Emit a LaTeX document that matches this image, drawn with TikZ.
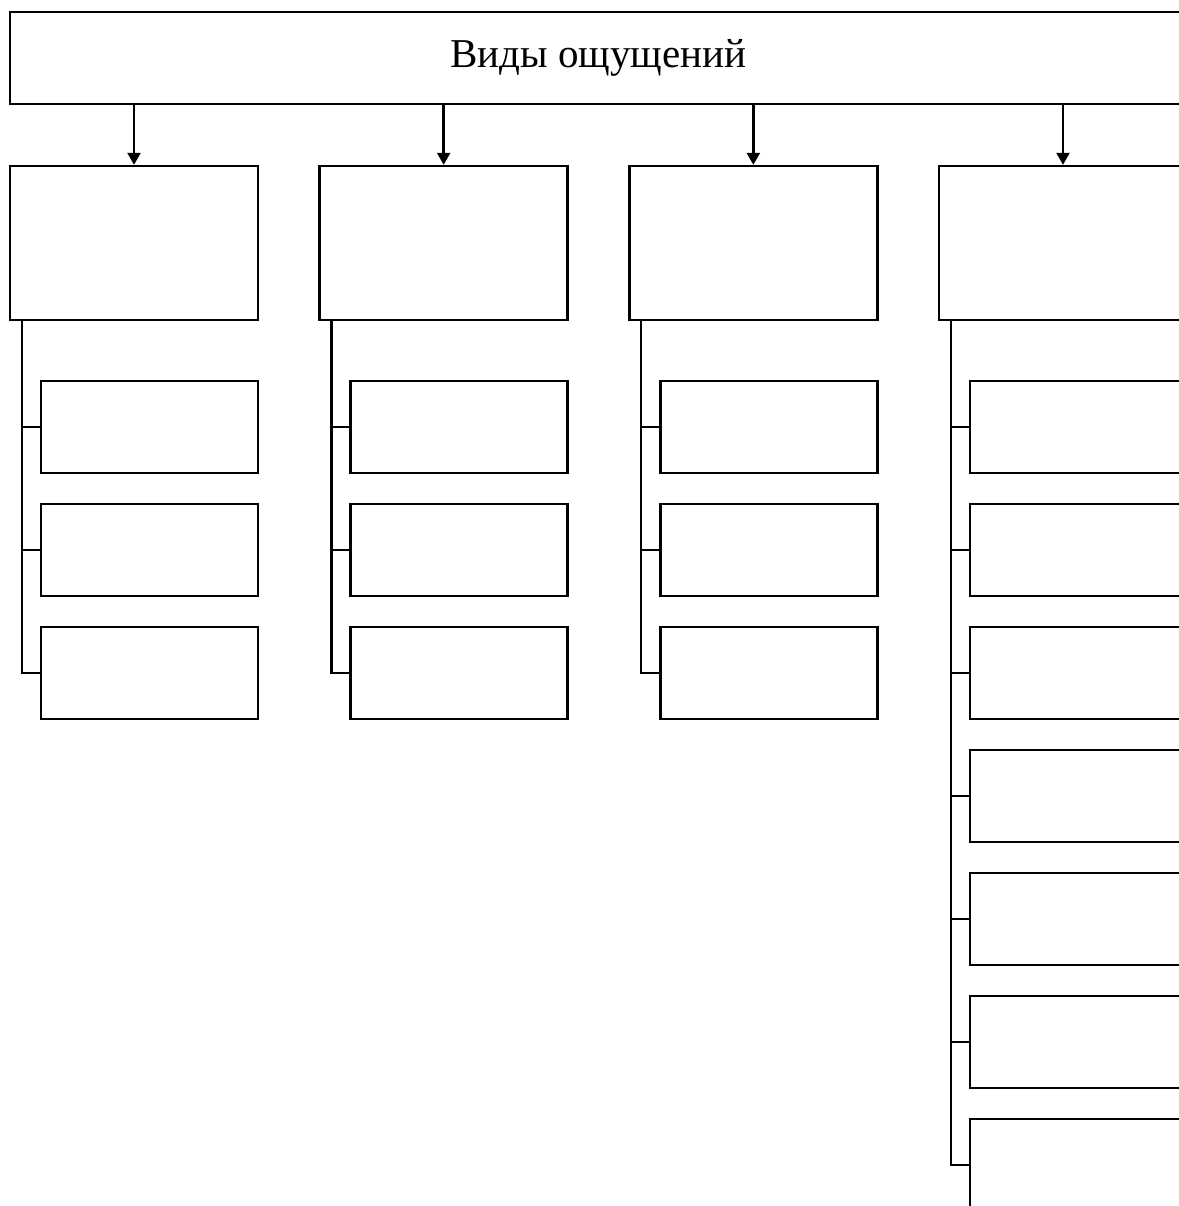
\documentclass[tikz,border=0pt]{standalone}
\usepackage{fontspec}
\setmainfont{Liberation Serif}
\usetikzlibrary{trees,arrows.meta}

\begin{document}
\begin{tikzpicture}[x=0.5pt, y=0.5pt, line width=1.2pt, every node/.style={draw,rectangle,inner sep=0pt}]
	\tikzstyle{level 1}=[sibling distance=154.83pt, level distance=92.5pt,
		edge from parent/.style={draw,-{Triangle[width=6.5pt,length=6pt]}},
		edge from parent path={(\tikzparentnode.south -| \tikzchildnode.north) -- (\tikzchildnode.north)}]
	\tikzstyle{level 2}=[grow via three points={one child at (15.5,-184) and two children at (15.5,-184) and (15.5,-307)},
		edge from parent/.style={draw},
		edge from parent path={(\tikzparentnode.south west) ++(13,0) |- (\tikzchildnode.west)}]
	\tikzstyle{headbox}=[minimum width=124pt, minimum height=77pt]
	\tikzstyle{subbox}=[minimum width=108.5pt, minimum height=46pt]
	\useasboundingbox (0,0) rectangle (1179,-1206);
	\clip (0,0) rectangle (1179,-1206);
	\node[minimum width=588.5pt, minimum height=46pt, font=\fontsize{20.5}{24}\selectfont] (vid) at (598.5,-58) {Виды ощущений}
		child{
			node[headbox] (v1) {}
			child{node[subbox] (v11) {}}
			child{node[subbox] (v12) {}}
			child{node[subbox] (v13) {}}
		}
		child{
			node[headbox] (v2) {}
			child{node[subbox] (v21) {}}
			child{node[subbox] (v22) {}}
			child{node[subbox] (v23) {}}
		}
		child{
			node[headbox] (v3) {}
			child{node[subbox] (v31) {}}
			child{node[subbox] (v32) {}}
			child{node[subbox] (v33) {}}
		}
		child{
			node[headbox] (v4) {}
			child{node[subbox] (v41) {}}
			child{node[subbox] (v42) {}}
			child{node[subbox] (v43) {}}
			child{node[subbox] (v44) {}}
			child{node[subbox] (v45) {}}
			child{node[subbox] (v46) {}}
			child{node[subbox] (v47) {}}
		}
	;
\end{tikzpicture}
\end{document}
